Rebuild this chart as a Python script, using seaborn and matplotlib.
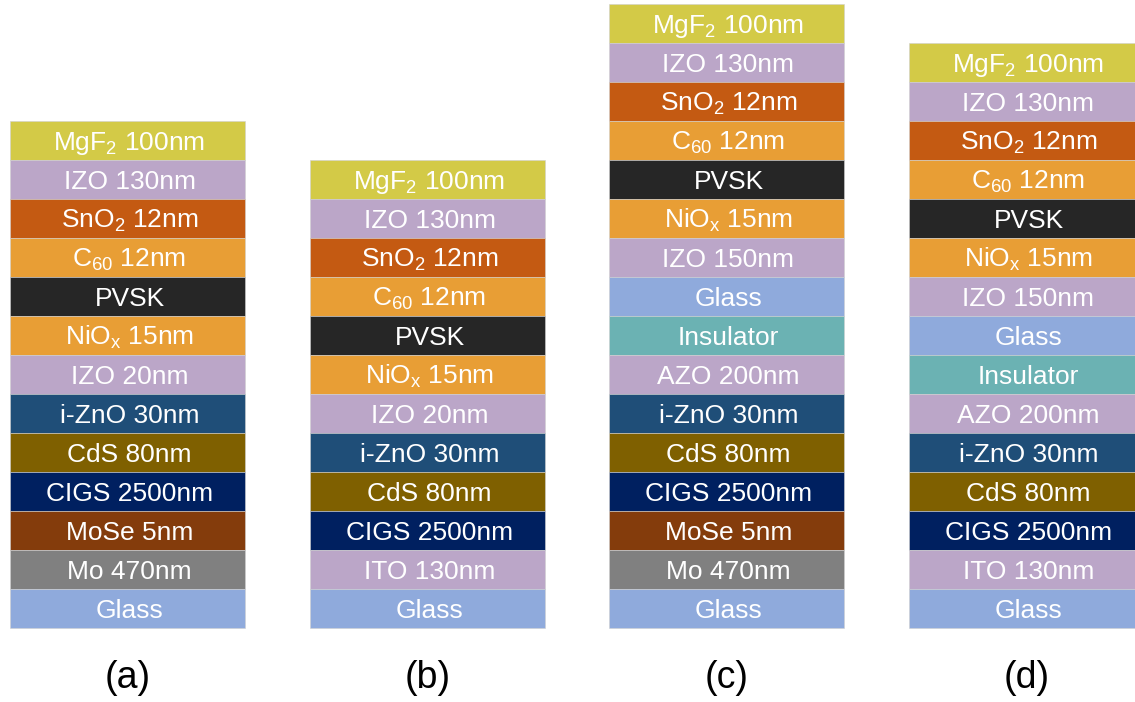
import matplotlib
matplotlib.use("Agg")
import matplotlib.pyplot as plt
import seaborn as sns
import pandas as pd

# Layer stacks, listed from top to bottom
stack_a = ["MgF$_2$ 100nm", "IZO 130nm", "SnO$_2$ 12nm", "C$_{60}$ 12nm", "PVSK",
           "NiO$_x$ 15nm", "IZO 20nm", "i-ZnO 30nm", "CdS 80nm", "CIGS 2500nm",
           "MoSe 5nm", "Mo 470nm", "Glass"]
stack_b = ["MgF$_2$ 100nm", "IZO 130nm", "SnO$_2$ 12nm", "C$_{60}$ 12nm", "PVSK",
           "NiO$_x$ 15nm", "IZO 20nm", "i-ZnO 30nm", "CdS 80nm", "CIGS 2500nm",
           "ITO 130nm", "Glass"]
stack_c = ["MgF$_2$ 100nm", "IZO 130nm", "SnO$_2$ 12nm", "C$_{60}$ 12nm", "PVSK",
           "NiO$_x$ 15nm", "IZO 150nm", "Glass", "Insulator", "AZO 200nm",
           "i-ZnO 30nm", "CdS 80nm", "CIGS 2500nm", "MoSe 5nm", "Mo 470nm", "Glass"]
stack_d = ["MgF$_2$ 100nm", "IZO 130nm", "SnO$_2$ 12nm", "C$_{60}$ 12nm", "PVSK",
           "NiO$_x$ 15nm", "IZO 150nm", "Glass", "Insulator", "AZO 200nm",
           "i-ZnO 30nm", "CdS 80nm", "CIGS 2500nm", "ITO 130nm", "Glass"]

stacks = [stack_a, stack_b, stack_c, stack_d]
panel_labels = ["(a)", "(b)", "(c)", "(d)"]

# Material colours, keyed by the first word of each layer label
material_colors = {
    "MgF": "#D3CA47",
    "IZO": "#BBA6C8",
    "ITO": "#BBA6C8",
    "AZO": "#BBA6C8",
    "SnO": "#C45A12",
    "C": "#E89E35",
    "NiO": "#E89E35",
    "PVSK": "#262626",
    "i-ZnO": "#1F4E78",
    "CdS": "#7F6000",
    "CIGS": "#002060",
    "MoSe": "#843C0C",
    "Mo": "#808080",
    "Glass": "#8FAADC",
    "Insulator": "#6BB2B3",
}


def material_of(label):
    key = label.split(" ")[0].split("$")[0]
    return key


rows = []
for s, layers in enumerate(stacks):
    n = len(layers)
    for i, lab in enumerate(layers):
        rows.append({"stack": s, "label": lab, "level": n - 1 - i,
                     "color": material_colors[material_of(lab)]})
df = pd.DataFrame(rows)

sns.set_theme(style="white")
plt.rcParams["font.family"] = ["Liberation Sans", "DejaVu Sans"]
plt.rcParams["mathtext.fontset"] = "custom"
plt.rcParams["mathtext.rm"] = "Liberation Sans"
plt.rcParams["mathtext.it"] = "Liberation Sans:italic"
plt.rcParams["mathtext.default"] = "regular"

fig = plt.figure(figsize=(11.35, 7.02), dpi=100)
ax = fig.add_axes([0, 0, 1, 1])

unit = 39.0          # pixel height of one layer
base_px = 628.0      # pixel row of the stack bottoms (from top)
H = 702.0
stack_left = [10, 310, 609, 909]
bar_w = 235

ax.set_xlim(0, 1135)
ax.set_ylim(-(H - base_px) / unit, base_px / unit)

for _, r in df.iterrows():
    xc = stack_left[r["stack"]] + bar_w / 2
    ax.bar(xc, 1.0, width=bar_w, bottom=r["level"], color=r["color"],
           edgecolor="#d0d0d0", linewidth=0.4)
    ax.text(xc + 2, r["level"] + 0.5 - 0.245, r["label"], ha="center",
            va="baseline", color="white", fontsize=19)

for s, lab in enumerate(panel_labels):
    xc = stack_left[s] + bar_w / 2
    ax.text(xc, (base_px - 678) / unit, lab, ha="center", va="center",
            color="black", fontsize=27)

ax.axis("off")
fig.savefig("out.png", dpi=100, facecolor="white")
